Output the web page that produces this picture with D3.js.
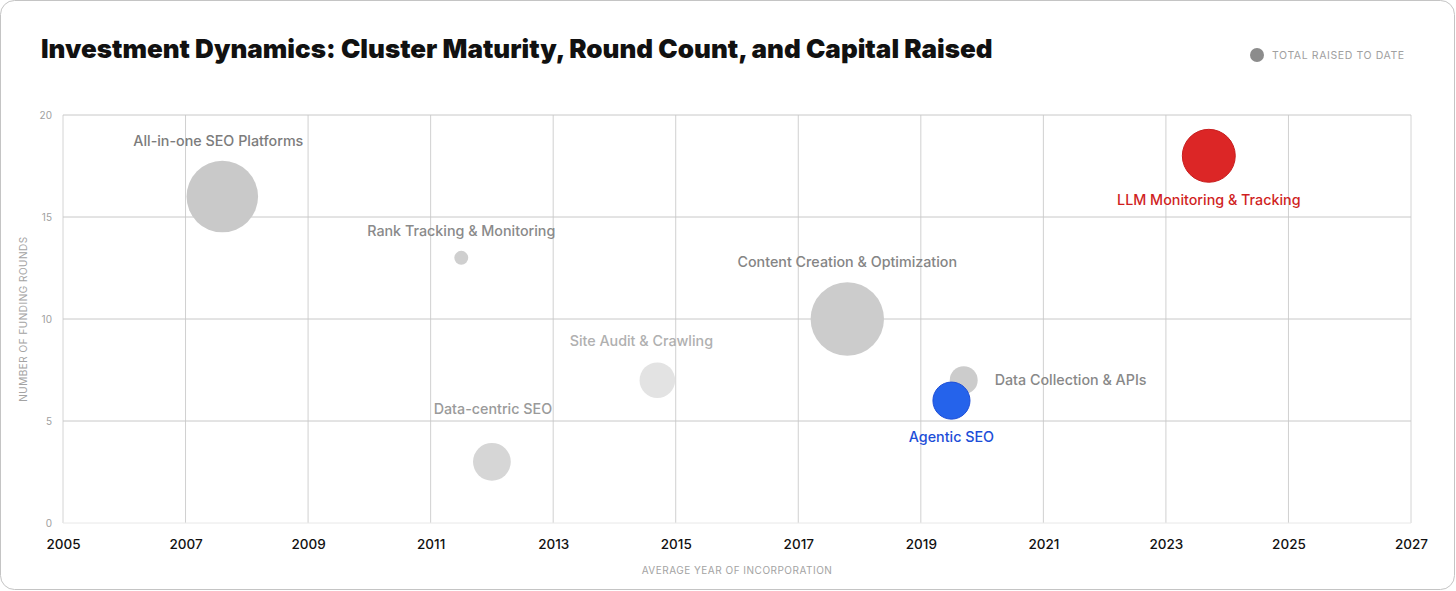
<!DOCTYPE html>
<html>
<head>
<meta charset="utf-8">
<script src="https://cdn.jsdelivr.net/npm/d3@7"></script>
<style>
  html, body { margin: 0; padding: 0; background: #fff; }
  svg { display: block; }
  text { font-family: Inter, "Noto Sans", sans-serif; }
</style>
</head>
<body>
<svg id="chart" width="1456" height="591"></svg>
<script>
//// DATA

// cluster names
const clusters = [
  "All-in-one SEO Platforms",
  "Rank Tracking & Monitoring",
  "Content Creation & Optimization",
  "Site Audit & Crawling",
  "Data-centric SEO",
  "Data Collection & APIs",
  "Agentic SEO",
  "LLM Monitoring & Tracking"
]
// average year of incorporation
const avgYear = [2007.6, 2011.5, 2017.8, 2014.7, 2012.0, 2019.7, 2019.5, 2023.7]
// number of funding rounds
const rounds = [16, 13, 10, 7, 3, 7, 6, 18]
// total raised to date (estimated, relative bubble size)
const raised = [950, 36, 1000, 235, 265, 145, 255, 520]

const xTicks = [2005, 2007, 2009, 2011, 2013, 2015, 2017, 2019, 2021, 2023, 2025, 2027]
const yTicks = [0, 5, 10, 15, 20]

//// STYLE / LAYOUT (kept apart from the data)

const W = 1456, H = 591
const margin = {top: 115, right: 45, bottom: 68, left: 63}

// fill + label colour for each cluster
const styles = {
  "All-in-one SEO Platforms":        {fill: "#c9c9c9", text: "#7c7c7c"},
  "Rank Tracking & Monitoring":      {fill: "#cfcfcf", text: "#8a8a8a"},
  "Content Creation & Optimization": {fill: "#cccccc", text: "#858585"},
  "Site Audit & Crawling":           {fill: "#e3e3e3", text: "#b0b0b0"},
  "Data-centric SEO":                {fill: "#d6d6d6", text: "#9a9a9a"},
  "Data Collection & APIs":          {fill: "#cccccc", text: "#888888"},
  "Agentic SEO":                     {fill: "#2563eb", text: "#1d4ed8", stroke: "#1d4ed8"},
  "LLM Monitoring & Tracking":       {fill: "#dc2626", text: "#d01f1f", stroke: "#c81e1e"}
}

// where each label sits relative to its bubble
const labelPos = {
  "All-in-one SEO Platforms":        {side: "top", dx: -4, gap: 20},
  "Rank Tracking & Monitoring":      {side: "top", dx: 0, gap: 20},
  "Content Creation & Optimization": {side: "top", dx: 0, gap: 20},
  "Site Audit & Crawling":           {side: "top", dx: -16, gap: 21},
  "Data-centric SEO":                {side: "top", dx: 1, gap: 34},
  "Data Collection & APIs":          {side: "right", dx: 17, gap: 0},
  "Agentic SEO":                     {side: "bottom", dx: 0, gap: 18},
  "LLM Monitoring & Tracking":       {side: "bottom", dx: 0, gap: 18}
}

const data = clusters.map((name, i) => ({name, year: avgYear[i], rounds: rounds[i], raised: raised[i]}))

//// DRAW

const svg = d3.select("#chart")

// card
svg.append("rect")
  .attr("x", 0.5).attr("y", 0.5)
  .attr("width", W - 2).attr("height", H - 2)
  .attr("rx", 14)
  .attr("fill", "#fff")
  .attr("stroke", "#c4c4c4")

const x = d3.scaleLinear()
  .domain([2005, 2027])
  .range([margin.left, W - margin.right])

const y = d3.scaleLinear()
  .domain([0, 20])
  .range([H - margin.bottom, margin.top])

const r = d3.scaleSqrt()
  .domain([0, d3.max(raised)])
  .range([0, 36.7])

// grid lines
svg.append("g")
  .selectAll("line")
  .data(xTicks)
  .join("line")
  .attr("x1", d => x(d)).attr("x2", d => x(d))
  .attr("y1", y(20)).attr("y2", y(0))
  .attr("stroke", d => (d === 2005 || d === 2027) ? "#d4d4d4" : "#d0d0d0")

svg.append("g")
  .selectAll("line")
  .data(yTicks)
  .join("line")
  .attr("x1", x(2005)).attr("x2", x(2027))
  .attr("y1", d => y(d)).attr("y2", d => y(d))
  .attr("stroke", d => d === 0 ? "#e8e8e8" : "#c8c8c8")

// x axis labels
const xAxis = svg.append("g")
  .attr("transform", `translate(0,${y(0)})`)
  .call(d3.axisBottom(x).tickValues(xTicks).tickFormat(d3.format("d")).tickSize(0).tickPadding(16))
xAxis.select(".domain").remove()
xAxis.selectAll("text")
  .style("font-size", "13.5px")
  .style("font-weight", 500)
  .attr("fill", "#111")

// y axis labels
const yAxis = svg.append("g")
  .attr("transform", `translate(${x(2005)},0)`)
  .call(d3.axisLeft(y).tickValues(yTicks).tickSize(0).tickPadding(11))
yAxis.select(".domain").remove()
yAxis.selectAll("text")
  .style("font-size", "10px")
  .attr("fill", "#a0a0a0")

// axis titles
svg.append("text")
  .attr("x", (x(2005) + x(2027)) / 2)
  .attr("y", 574)
  .attr("text-anchor", "middle")
  .style("font-size", "10px")
  .style("letter-spacing", "0.5px")
  .attr("fill", "#a3a3a3")
  .text("AVERAGE YEAR OF INCORPORATION")

svg.append("text")
  .attr("transform", `translate(27,${(y(0) + y(20)) / 2}) rotate(-90)`)
  .attr("text-anchor", "middle")
  .style("font-size", "10px")
  .style("letter-spacing", "0.5px")
  .attr("fill", "#a3a3a3")
  .text("NUMBER OF FUNDING ROUNDS")

// bubbles, big ones first so the small ones stay on top
const order = data.slice().sort((a, b) => {
  // keep highlighted clusters above the grey ones
  const ha = styles[a.name].stroke ? 1 : 0, hb = styles[b.name].stroke ? 1 : 0
  return ha - hb || b.raised - a.raised
})

svg.append("g")
  .selectAll("circle")
  .data(order)
  .join("circle")
  .attr("cx", d => x(d.year))
  .attr("cy", d => y(d.rounds))
  .attr("r", d => r(d.raised))
  .attr("fill", d => styles[d.name].fill)
  .attr("stroke", d => styles[d.name].stroke || "none")
  .attr("stroke-width", 1)

// labels
svg.append("g")
  .selectAll("text")
  .data(data)
  .join("text")
  .attr("x", d => {
    const p = labelPos[d.name]
    if (p.side === "right") return x(d.year) + r(d.raised) + p.dx
    return x(d.year) + p.dx
  })
  .attr("y", d => {
    const p = labelPos[d.name]
    const rr = r(d.raised)
    if (p.side === "top") return y(d.rounds) - rr - p.gap + 5
    if (p.side === "bottom") return y(d.rounds) + rr + p.gap + 5
    return y(d.rounds) + 5
  })
  .attr("text-anchor", d => labelPos[d.name].side === "right" ? "start" : "middle")
  .style("font-size", "14.3px")
  .style("font-weight", 500)
  .attr("fill", d => styles[d.name].text)
  .text(d => d.name)

// title, fitted to the width it has in the picture
const title = svg.append("text")
  .attr("x", 41)
  .attr("y", 58)
  .style("font-size", "25px")
  .style("font-weight", 900)
  .attr("fill", "#111")
  .text("Investment Dynamics: Cluster Maturity, Round Count, and Capital Raised")
const tw = title.node().getComputedTextLength()
title.style("font-size", (25 * 952 / tw) + "px")

// legend
svg.append("circle")
  .attr("cx", 1257).attr("cy", 55).attr("r", 7)
  .attr("fill", "#8c8c8c")
svg.append("text")
  .attr("x", 1272).attr("y", 59)
  .style("font-size", "10.5px")
  .style("letter-spacing", "0.6px")
  .attr("fill", "#a0a0a0")
  .text("TOTAL RAISED TO DATE")
</script>
</body>
</html>
